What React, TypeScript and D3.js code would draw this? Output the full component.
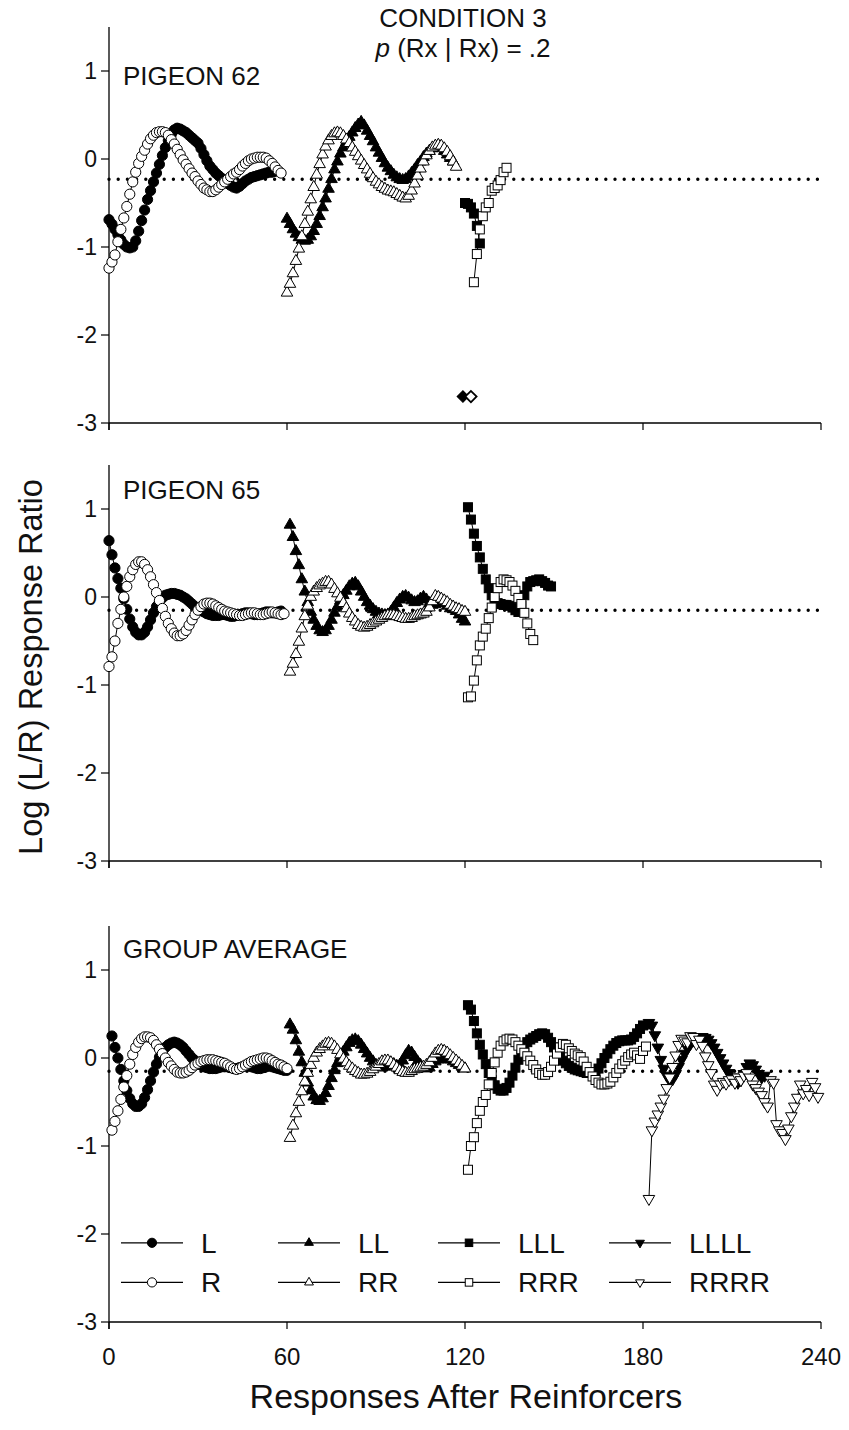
import React from 'react';
import * as d3 from 'd3';

// ---------- axes / labels ----------
const X_TICKS = [0, 60, 120, 180, 240];
const Y_TICKS = [1, 0, -1, -2, -3];
const PANEL_TITLES = ['PIGEON 62', 'PIGEON 65', 'GROUP AVERAGE'];
const REF_LEVELS = [-0.23, -0.15, -0.15];
const LEGEND_TOP = ['L', 'LL', 'LLL', 'LLLL'];
const LEGEND_BOTTOM = ['R', 'RR', 'RRR', 'RRRR'];

// ---------- Pigeon 62 ----------
const P62_L_START = 0;
const P62_L = [-0.69,-0.74,-0.80,-0.86,-0.92,-0.97,-1.00,-1.01,-1.00,-0.93,-0.82,-0.70,-0.58,-0.46,-0.36,-0.26,-0.16,-0.06,0.04,0.13,0.21,0.28,0.33,0.35,0.34,0.32,0.30,0.27,0.24,0.21,0.18,0.12,0.05,-0.02,-0.08,-0.12,-0.16,-0.19,-0.22,-0.25,-0.28,-0.30,-0.32,-0.33,-0.31,-0.28,-0.25,-0.23,-0.21,-0.20,-0.19,-0.18,-0.17,-0.16,-0.15,-0.15,-0.14];
const P62_R_START = 0;
const P62_R = [-1.24,-1.17,-1.09,-0.94,-0.80,-0.67,-0.54,-0.40,-0.26,-0.15,-0.05,0.03,0.10,0.17,0.23,0.27,0.30,0.31,0.31,0.30,0.27,0.22,0.17,0.11,0.05,-0.01,-0.06,-0.11,-0.16,-0.20,-0.25,-0.29,-0.33,-0.35,-0.37,-0.37,-0.35,-0.32,-0.29,-0.26,-0.23,-0.20,-0.17,-0.15,-0.12,-0.08,-0.05,-0.02,0.00,0.01,0.02,0.02,0.02,0.01,-0.02,-0.05,-0.09,-0.13,-0.16];
const P62_LL_START = 60;
const P62_LL = [-0.68,-0.74,-0.80,-0.85,-0.89,-0.92,-0.93,-0.92,-0.88,-0.82,-0.74,-0.65,-0.55,-0.45,-0.34,-0.23,-0.12,-0.03,0.06,0.13,0.19,0.25,0.30,0.35,0.39,0.42,0.38,0.32,0.26,0.20,0.13,0.07,0.01,-0.05,-0.10,-0.14,-0.18,-0.21,-0.23,-0.24,-0.23,-0.20,-0.16,-0.12,-0.07,-0.03,0.02,0.06,0.09,0.12,0.14,0.15,0.13,0.09,0.05,0.01,-0.03];
const P62_RR_START = 60;
const P62_RR = [-1.52,-1.42,-1.30,-1.16,-1.02,-0.88,-0.74,-0.60,-0.46,-0.32,-0.18,-0.06,0.05,0.14,0.21,0.26,0.29,0.30,0.29,0.26,0.22,0.18,0.13,0.08,0.03,-0.02,-0.07,-0.12,-0.17,-0.22,-0.26,-0.29,-0.32,-0.34,-0.36,-0.37,-0.38,-0.40,-0.42,-0.44,-0.45,-0.42,-0.36,-0.28,-0.19,-0.11,-0.03,0.04,0.09,0.13,0.15,0.16,0.15,0.12,0.08,0.03,-0.03,-0.09];
const P62_LLL_START = 120;
const P62_LLL = [-0.50,-0.51,-0.55,-0.62,-0.76,-0.96];
const P62_RRR_START = 123;
const P62_RRR = [-1.40,-1.08,-0.80,-0.65,-0.55,-0.50,-0.36,-0.33,-0.30,-0.24,-0.15,-0.10];
// points plotted off-scale at the bottom of the panel (response, value)
const P62_OFF_FILLED = [[119.3, -2.7]];
const P62_OFF_OPEN = [[122, -2.7]];

// ---------- Pigeon 65 ----------
const P65_L_START = 0;
const P65_L = [0.64,0.48,0.33,0.21,0.10,-0.02,-0.14,-0.25,-0.34,-0.40,-0.43,-0.43,-0.40,-0.34,-0.26,-0.18,-0.11,-0.05,-0.01,0.02,0.03,0.04,0.04,0.03,0.02,0.00,-0.02,-0.05,-0.08,-0.11,-0.13,-0.15,-0.17,-0.19,-0.20,-0.21,-0.21,-0.21,-0.20,-0.20,-0.21,-0.22,-0.22,-0.21,-0.20,-0.19,-0.18,-0.18,-0.19,-0.20,-0.20,-0.19,-0.18,-0.17,-0.17,-0.18,-0.18,-0.17,-0.16];
const P65_R_START = 0;
const P65_R = [-0.79,-0.68,-0.50,-0.30,-0.14,0.00,0.12,0.23,0.31,0.37,0.40,0.40,0.37,0.31,0.23,0.14,0.05,-0.04,-0.13,-0.22,-0.30,-0.36,-0.41,-0.44,-0.44,-0.42,-0.38,-0.32,-0.26,-0.20,-0.15,-0.11,-0.08,-0.07,-0.07,-0.08,-0.10,-0.12,-0.14,-0.16,-0.17,-0.18,-0.19,-0.20,-0.21,-0.21,-0.20,-0.19,-0.18,-0.18,-0.19,-0.20,-0.20,-0.19,-0.18,-0.17,-0.18,-0.19,-0.20,-0.19];
const P65_LL_START = 61;
const P65_LL = [0.82,0.68,0.52,0.36,0.20,0.06,-0.06,-0.17,-0.26,-0.33,-0.38,-0.40,-0.38,-0.33,-0.26,-0.18,-0.11,-0.04,0.02,0.07,0.12,0.15,0.16,0.12,0.06,0.00,-0.06,-0.10,-0.14,-0.17,-0.19,-0.20,-0.21,-0.20,-0.17,-0.12,-0.07,-0.03,0.00,0.01,-0.01,-0.04,-0.06,-0.05,-0.02,0.00,-0.03,-0.07,-0.09,-0.08,-0.05,-0.04,-0.07,-0.10,-0.13,-0.14,-0.16,-0.20,-0.25,-0.28];
const P65_RR_START = 61;
const P65_RR = [-0.85,-0.76,-0.65,-0.51,-0.36,-0.22,-0.10,0.00,0.06,0.10,0.13,0.15,0.17,0.17,0.14,0.09,0.04,-0.01,-0.07,-0.13,-0.19,-0.24,-0.28,-0.32,-0.34,-0.35,-0.34,-0.32,-0.30,-0.28,-0.26,-0.24,-0.22,-0.21,-0.21,-0.21,-0.22,-0.23,-0.24,-0.25,-0.25,-0.24,-0.22,-0.21,-0.20,-0.19,-0.17,-0.12,-0.05,0.01,0.00,-0.02,-0.04,-0.06,-0.09,-0.11,-0.13,-0.14,-0.16,-0.17];
const P65_LLL_START = 121;
const P65_LLL = [1.02,0.88,0.72,0.58,0.45,0.32,0.20,0.10,0.02,-0.04,-0.07,-0.08,-0.09,-0.09,-0.10,-0.12,-0.15,-0.17,-0.10,0.02,0.12,0.17,0.18,0.19,0.20,0.18,0.16,0.13,0.12];
const P65_RRR_START = 121;
const P65_RRR = [-1.14,-1.13,-0.95,-0.72,-0.55,-0.45,-0.36,-0.24,-0.12,0.00,0.10,0.17,0.20,0.19,0.17,0.13,0.07,-0.01,-0.08,-0.18,-0.30,-0.42,-0.49];

// ---------- Group average ----------
const GA_L_START = 1;
const GA_L = [0.25,0.12,0.00,-0.13,-0.26,-0.37,-0.46,-0.52,-0.55,-0.55,-0.52,-0.45,-0.36,-0.26,-0.16,-0.07,0.01,0.07,0.12,0.15,0.17,0.18,0.17,0.15,0.12,0.08,0.04,0.00,-0.03,-0.06,-0.08,-0.10,-0.11,-0.12,-0.12,-0.12,-0.11,-0.10,-0.10,-0.10,-0.11,-0.12,-0.12,-0.11,-0.10,-0.09,-0.09,-0.10,-0.11,-0.12,-0.12,-0.11,-0.10,-0.09,-0.10,-0.11,-0.12,-0.13,-0.14,-0.14];
const GA_R_START = 1;
const GA_R = [-0.82,-0.72,-0.60,-0.47,-0.33,-0.20,-0.07,0.04,0.12,0.18,0.22,0.24,0.24,0.23,0.20,0.15,0.10,0.05,0.00,-0.05,-0.09,-0.13,-0.16,-0.17,-0.17,-0.16,-0.14,-0.11,-0.08,-0.06,-0.04,-0.03,-0.02,-0.02,-0.02,-0.03,-0.04,-0.05,-0.06,-0.08,-0.10,-0.12,-0.13,-0.12,-0.10,-0.08,-0.06,-0.04,-0.03,-0.02,-0.01,0.00,0.00,-0.01,-0.03,-0.05,-0.07,-0.08,-0.10,-0.12];
const GA_LL_START = 61;
const GA_LL = [0.38,0.32,0.20,0.07,-0.05,-0.17,-0.28,-0.37,-0.44,-0.48,-0.49,-0.46,-0.40,-0.32,-0.23,-0.14,-0.06,0.01,0.07,0.12,0.17,0.20,0.21,0.19,0.15,0.10,0.05,0.00,-0.04,-0.08,-0.10,-0.11,-0.10,-0.08,-0.06,-0.07,-0.09,-0.08,-0.03,0.03,0.08,0.06,0.01,-0.04,-0.08,-0.11,-0.12,-0.11,-0.07,-0.04,-0.02,-0.01,0.00,-0.01,-0.02,-0.04,-0.06,-0.08,-0.10,-0.12];
const GA_RR_START = 61;
const GA_RR = [-0.91,-0.77,-0.63,-0.50,-0.38,-0.27,-0.17,-0.08,0.00,0.06,0.10,0.13,0.16,0.17,0.16,0.13,0.09,0.04,-0.01,-0.05,-0.09,-0.12,-0.15,-0.17,-0.19,-0.19,-0.18,-0.16,-0.13,-0.10,-0.07,-0.04,-0.03,-0.03,-0.05,-0.08,-0.11,-0.14,-0.16,-0.17,-0.17,-0.15,-0.13,-0.12,-0.11,-0.10,-0.08,-0.05,0.00,0.05,0.08,0.09,0.08,0.06,0.03,0.00,-0.03,-0.06,-0.09,-0.12];
const GA_LLL_START = 121;
const GA_LLL = [0.60,0.55,0.42,0.28,0.15,0.04,-0.07,-0.17,-0.25,-0.31,-0.35,-0.37,-0.37,-0.34,-0.28,-0.20,-0.11,-0.02,0.06,0.13,0.18,0.21,0.23,0.25,0.27,0.28,0.27,0.23,0.18,0.12,0.06,0.01,-0.03,-0.06,-0.09,-0.11,-0.13,-0.14,-0.15,-0.16,-0.17,-0.17,-0.17,-0.16,-0.12,-0.06,0.00,0.05,0.10,0.14,0.17,0.19,0.20,0.20,0.20,0.21,0.24,0.28,0.33,0.37];
const GA_RRR_START = 121;
const GA_RRR = [-1.27,-1.00,-0.90,-0.74,-0.60,-0.50,-0.42,-0.30,-0.17,-0.05,0.06,0.14,0.19,0.21,0.22,0.21,0.18,0.14,0.10,0.06,0.02,-0.03,-0.08,-0.13,-0.17,-0.19,-0.19,-0.16,-0.10,-0.03,0.05,0.12,0.16,0.15,0.11,0.08,0.05,0.03,0.01,-0.04,-0.10,-0.16,-0.21,-0.25,-0.28,-0.30,-0.30,-0.29,-0.27,-0.22,-0.17,-0.12,-0.07,-0.03,0.01,0.04,0.06,0.03,-0.01,0.08,0.13];
const GA_LLLL_START = 182;
const GA_LLLL = [0.40,0.37,0.26,0.12,-0.02,-0.12,-0.20,-0.25,-0.24,-0.18,-0.10,-0.02,0.05,0.11,0.16,0.20,0.22,0.23,0.24,0.23,0.21,0.17,0.12,0.06,0.00,-0.06,-0.12,-0.17,-0.22,-0.26,-0.28,-0.25,-0.18,-0.10,-0.06,-0.08,-0.13,-0.18,-0.22,-0.20];
const GA_RRRR_START = 182;
const GA_RRRR = [-1.60,-0.82,-0.72,-0.64,-0.55,-0.46,-0.34,-0.22,-0.10,0.03,0.15,0.22,0.20,0.18,0.25,0.24,0.16,0.21,0.14,0.02,-0.08,-0.17,-0.30,-0.36,-0.30,-0.27,-0.29,-0.25,-0.24,-0.28,-0.22,-0.25,-0.20,-0.17,-0.22,-0.30,-0.34,-0.38,-0.42,-0.50,-0.55,-0.25,-0.28,-0.75,-0.82,-0.85,-0.92,-0.80,-0.66,-0.55,-0.45,-0.30,-0.40,-0.35,-0.42,-0.27,-0.33,-0.44];

// ---------- layout ----------
const W = 849;
const H = 1430;
const FONT = '"Liberation Sans", Arial, Helvetica, sans-serif';
const PANEL_BOTTOMS = [423, 861, 1322];
const PANEL_HEIGHT = 396;
const xScale = d3.scaleLinear().domain([0, 240]).range([109, 821]);

type Kind = 'circle' | 'tri' | 'square' | 'triDown';
interface Series { start: number; values: number[]; kind: Kind; filled: boolean }

const mk = (start: number, values: number[], kind: Kind, filled: boolean): Series => ({ start, values, kind, filled });

const PANELS: { title: string; ref: number; series: Series[]; offFilled?: number[][]; offOpen?: number[][] }[] = [
  {
    title: PANEL_TITLES[0], ref: REF_LEVELS[0],
    series: [
      mk(P62_L_START, P62_L, 'circle', true), mk(P62_R_START, P62_R, 'circle', false),
      mk(P62_LL_START, P62_LL, 'tri', true), mk(P62_RR_START, P62_RR, 'tri', false),
      mk(P62_LLL_START, P62_LLL, 'square', true), mk(P62_RRR_START, P62_RRR, 'square', false),
    ],
    offFilled: P62_OFF_FILLED, offOpen: P62_OFF_OPEN,
  },
  {
    title: PANEL_TITLES[1], ref: REF_LEVELS[1],
    series: [
      mk(P65_L_START, P65_L, 'circle', true), mk(P65_R_START, P65_R, 'circle', false),
      mk(P65_LL_START, P65_LL, 'tri', true), mk(P65_RR_START, P65_RR, 'tri', false),
      mk(P65_LLL_START, P65_LLL, 'square', true), mk(P65_RRR_START, P65_RRR, 'square', false),
    ],
  },
  {
    title: PANEL_TITLES[2], ref: REF_LEVELS[2],
    series: [
      mk(GA_L_START, GA_L, 'circle', true), mk(GA_R_START, GA_R, 'circle', false),
      mk(GA_LL_START, GA_LL, 'tri', true), mk(GA_RR_START, GA_RR, 'tri', false),
      mk(GA_LLL_START, GA_LLL, 'square', true), mk(GA_RRR_START, GA_RRR, 'square', false),
      mk(GA_LLLL_START, GA_LLLL, 'triDown', true), mk(GA_RRRR_START, GA_RRRR, 'triDown', false),
    ],
  },
];

const triPath = d3.symbol().type(d3.symbolTriangle).size(58)() as string;
const triPathSmall = d3.symbol().type(d3.symbolTriangle).size(34)() as string;

function Marker({ kind, filled, x, y, small }: { kind: Kind; filled: boolean; x: number; y: number; small?: boolean }) {
  const fill = filled ? '#000' : '#fff';
  const stroke = '#000';
  const sw = 1;
  if (kind === 'circle') {
    return <circle cx={x} cy={y} r={small ? 4.6 : 5.1} fill={fill} stroke={stroke} strokeWidth={sw} />;
  }
  if (kind === 'square') {
    const s = small ? 7.5 : 9;
    return <rect x={x - s / 2} y={y - s / 2} width={s} height={s} fill={fill} stroke={stroke} strokeWidth={sw} />;
  }
  const p = small ? triPathSmall : triPath;
  const rot = kind === 'triDown' ? 180 : 0;
  return <path d={p} transform={`translate(${x},${y}) rotate(${rot})`} fill={fill} stroke={stroke} strokeWidth={sw} />;
}

function Panel({ idx }: { idx: number }) {
  const panel = PANELS[idx];
  const bottom = PANEL_BOTTOMS[idx];
  const y = d3.scaleLinear().domain([1.5, -3]).range([bottom - PANEL_HEIGHT, bottom]);
  const x0 = xScale(0);
  const lineOf = (s: Series) =>
    d3.line<number>().x((_, i) => xScale(s.start + i)).y((v) => y(v))(s.values) as string;
  const isLast = idx === PANELS.length - 1;
  return (
    <g>
      {/* reference dotted line */}
      <line x1={xScale(0)} x2={xScale(240)} y1={y(panel.ref)} y2={y(panel.ref)}
        stroke="#000" strokeWidth={3.4} strokeDasharray="0 9.2" strokeLinecap="round" />
      {/* axes */}
      <line x1={x0} x2={x0} y1={y(1.5)} y2={y(-3) + 7} stroke="#000" strokeWidth={1.3} />
      <line x1={x0} x2={xScale(240)} y1={y(-3)} y2={y(-3)} stroke="#000" strokeWidth={1.3} />
      {Y_TICKS.map((t) => (
        <g key={t}>
          <line x1={x0 - 8} x2={x0} y1={y(t)} y2={y(t)} stroke="#000" strokeWidth={1.2} />
          <text x={x0 - 12} y={y(t)} dy="0.36em" textAnchor="end" fontFamily={FONT} fontSize={23} fill="#111">
            {t < 0 ? `-${Math.abs(t)}` : t}
          </text>
        </g>
      ))}
      {X_TICKS.map((t) => (
        <g key={t}>
          <line x1={xScale(t)} x2={xScale(t)} y1={y(-3)} y2={y(-3) + 7} stroke="#000" strokeWidth={1.2} />
          {isLast && (
            <text x={xScale(t)} y={y(-3) + 43} textAnchor="middle" fontFamily={FONT} fontSize={24} fill="#111">{t}</text>
          )}
        </g>
      ))}
      {/* panel title */}
      <text x={123} y={idx === 0 ? 85 : idx === 1 ? 499 : 958} fontFamily={FONT} fontSize={26} fill="#111">{panel.title}</text>
      {/* series */}
      {panel.series.map((s, si) => (
        <g key={si}>
          <path d={lineOf(s)} fill="none" stroke="#000" strokeWidth={1} />
          {s.values.map((v, i) => (
            <Marker key={i} kind={s.kind} filled={s.filled} x={xScale(s.start + i)} y={y(v)} />
          ))}
        </g>
      ))}
      {panel.offFilled && panel.offFilled.map((p, i) => (
        <rect key={'f' + i} x={xScale(p[0]) - 4} y={y(p[1]) - 4} width={8} height={8}
          transform={`rotate(45 ${xScale(p[0])} ${y(p[1])})`} fill="#000" stroke="#000" strokeWidth={1.2} />
      ))}
      {panel.offOpen && panel.offOpen.map((p, i) => (
        <rect key={'o' + i} x={xScale(p[0]) - 4} y={y(p[1]) - 4} width={8} height={8}
          transform={`rotate(45 ${xScale(p[0])} ${y(p[1])})`} fill="#fff" stroke="#000" strokeWidth={1.8} />
      ))}
      {isLast && <Legend y={y} />}
    </g>
  );
}

const LEGEND_KINDS: Kind[] = ['circle', 'tri', 'square', 'triDown'];
const LEGEND_COL_X = [121, 278, 438, 609];
const LEGEND_ROW_VALUES = [-2.1, -2.55];

function Legend({ y }: { y: d3.ScaleLinear<number, number> }) {
  return (
    <g>
      {LEGEND_ROW_VALUES.map((rv, r) => (
        <g key={r}>
          {LEGEND_KINDS.map((k, c) => {
            const lx = LEGEND_COL_X[c];
            const yy = y(rv);
            const label = r === 0 ? LEGEND_TOP[c] : LEGEND_BOTTOM[c];
            return (
              <g key={c}>
                <line x1={lx} x2={lx + 62} y1={yy} y2={yy} stroke="#000" strokeWidth={1.2} />
                <Marker kind={k} filled={r === 0} x={lx + 31} y={yy} small />
                <text x={lx + 80} y={yy} dy="0.36em" fontFamily={FONT} fontSize={28} fill="#111">{label}</text>
              </g>
            );
          })}
        </g>
      ))}
    </g>
  );
}

export default function App() {
  return (
    <svg width={W} height={H} style={{ position: 'absolute', left: 0, top: 0, background: '#fff' }}
      xmlns="http://www.w3.org/2000/svg">
      <rect x={0} y={0} width={W} height={H} fill="#fff" />
      <text x={463} y={27} textAnchor="middle" fontFamily={FONT} fontSize={26} fill="#111">CONDITION 3</text>
      <text x={463} y={57} textAnchor="middle" fontFamily={FONT} fontSize={26} fill="#111">
        <tspan fontStyle="italic">p</tspan> (Rx | Rx) = .2
      </text>
      {PANELS.map((_, i) => <Panel key={i} idx={i} />)}
      <text transform={`translate(42, 667) rotate(-90)`} textAnchor="middle" fontFamily={FONT} fontSize={32.5} fill="#111">
        Log (L/R) Response Ratio
      </text>
      <text x={466} y={1408} textAnchor="middle" fontFamily={FONT} fontSize={34} fill="#111">Responses After Reinforcers</text>
    </svg>
  );
}
